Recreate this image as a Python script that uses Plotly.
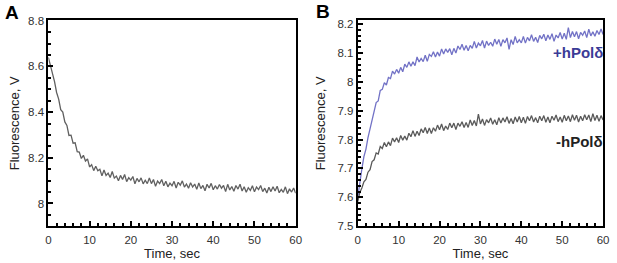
import plotly.graph_objects as go

# Sample times (s), 0.5 s spacing
time_s = [i * 0.5 for i in range(121)]

# Panel A: fluorescence (V)
fluor_a = [8.640, 8.608, 8.567, 8.534, 8.486, 8.457, 8.411, 8.400, 8.357, 8.342,
           8.298, 8.299, 8.264, 8.266, 8.227, 8.225, 8.197, 8.211, 8.186, 8.195,
           8.160, 8.170, 8.144, 8.163, 8.143, 8.150, 8.121, 8.147, 8.123, 8.133,
           8.114, 8.140, 8.111, 8.120, 8.100, 8.123, 8.105, 8.127, 8.096, 8.113,
           8.102, 8.118, 8.086, 8.110, 8.095, 8.112, 8.086, 8.102, 8.087, 8.112,
           8.087, 8.105, 8.075, 8.098, 8.087, 8.105, 8.078, 8.097, 8.073, 8.089,
           8.078, 8.097, 8.068, 8.093, 8.080, 8.099, 8.072, 8.085, 8.067, 8.091,
           8.072, 8.085, 8.062, 8.090, 8.065, 8.079, 8.056, 8.084, 8.068, 8.088,
           8.060, 8.078, 8.063, 8.083, 8.067, 8.079, 8.052, 8.084, 8.059, 8.074,
           8.054, 8.079, 8.063, 8.084, 8.055, 8.073, 8.049, 8.069, 8.057, 8.078,
           8.051, 8.072, 8.061, 8.079, 8.052, 8.067, 8.046, 8.071, 8.052, 8.073,
           8.055, 8.076, 8.047, 8.062, 8.049, 8.073, 8.043, 8.064, 8.050, 8.068,
           8.045]

# Panel B: +hPol delta
fluor_b_plus = [7.600, 7.657, 7.698, 7.741, 7.767, 7.807, 7.836, 7.875, 7.897, 7.928,
                7.934, 7.970, 7.974, 7.997, 7.989, 8.015, 8.011, 8.037, 8.027, 8.043,
                8.030, 8.050, 8.035, 8.061, 8.050, 8.069, 8.054, 8.069, 8.056, 8.086,
                8.069, 8.081, 8.070, 8.092, 8.071, 8.095, 8.088, 8.104, 8.086, 8.103,
                8.089, 8.114, 8.096, 8.114, 8.102, 8.115, 8.094, 8.116, 8.100, 8.124,
                8.112, 8.130, 8.109, 8.126, 8.108, 8.126, 8.116, 8.140, 8.117, 8.134,
                8.125, 8.143, 8.117, 8.141, 8.126, 8.137, 8.123, 8.148, 8.130, 8.147,
                8.123, 8.146, 8.135, 8.152, 8.112, 8.146, 8.129, 8.157, 8.135, 8.146,
                8.135, 8.157, 8.134, 8.154, 8.142, 8.163, 8.140, 8.154, 8.136, 8.161,
                8.149, 8.165, 8.142, 8.162, 8.147, 8.167, 8.140, 8.162, 8.152, 8.171,
                8.148, 8.168, 8.147, 8.188, 8.153, 8.174, 8.156, 8.174, 8.149, 8.171,
                8.161, 8.176, 8.153, 8.182, 8.159, 8.173, 8.158, 8.178, 8.164, 8.183,
                8.164]

# Panel B: -hPol delta
fluor_b_minus = [7.585, 7.617, 7.632, 7.654, 7.662, 7.687, 7.696, 7.724, 7.730, 7.754,
                 7.750, 7.776, 7.769, 7.790, 7.775, 7.792, 7.779, 7.805, 7.792, 7.806,
                 7.790, 7.814, 7.798, 7.812, 7.798, 7.822, 7.810, 7.831, 7.811, 7.829,
                 7.814, 7.837, 7.824, 7.842, 7.821, 7.840, 7.821, 7.841, 7.829, 7.850,
                 7.834, 7.854, 7.831, 7.847, 7.835, 7.857, 7.841, 7.857, 7.835, 7.857,
                 7.846, 7.862, 7.842, 7.859, 7.842, 7.868, 7.849, 7.866, 7.847, 7.888,
                 7.854, 7.871, 7.849, 7.869, 7.858, 7.875, 7.853, 7.869, 7.851, 7.876,
                 7.857, 7.875, 7.861, 7.879, 7.856, 7.873, 7.855, 7.878, 7.861, 7.880,
                 7.858, 7.877, 7.856, 7.880, 7.865, 7.883, 7.861, 7.876, 7.858, 7.881,
                 7.865, 7.883, 7.860, 7.878, 7.858, 7.881, 7.867, 7.885, 7.862, 7.878,
                 7.860, 7.884, 7.865, 7.882, 7.862, 7.886, 7.867, 7.884, 7.861, 7.881,
                 7.865, 7.886, 7.869, 7.885, 7.862, 7.890, 7.866, 7.884, 7.863, 7.883,
                 7.868]

x_ticks = [0, 10, 20, 30, 40, 50, 60]
font_family = "Liberation Sans, Arial, sans-serif"

fig = go.Figure()
fig.add_trace(go.Scatter(x=time_s, y=fluor_a, mode="lines",
                         line=dict(color="#606060", width=1.3), xaxis="x", yaxis="y",
                         showlegend=False))
fig.add_trace(go.Scatter(x=time_s, y=fluor_b_plus, mode="lines",
                         line=dict(color="#7272c6", width=1.3), xaxis="x2", yaxis="y2",
                         showlegend=False))
fig.add_trace(go.Scatter(x=time_s, y=fluor_b_minus, mode="lines",
                         line=dict(color="#5a5a5a", width=1.3), xaxis="x2", yaxis="y2",
                         showlegend=False))

ax_common = dict(showline=True, linecolor="black", linewidth=2, mirror=True,
                 ticks="inside", ticklen=5, tickwidth=1.5, tickcolor="black",
                 showgrid=False, zeroline=False, ticklabeloverflow="allow",
                 tickfont=dict(family=font_family, size=11.5, color="#333333"),
                 title_font=dict(family=font_family, size=13, color="#222222"))

minor_x = dict(dtick=2, ticks="inside", ticklen=3, tickcolor="black", tickwidth=1.5)

fig.update_layout(
    width=617, height=263,
    margin=dict(l=0, r=0, t=0, b=0),
    paper_bgcolor="white", plot_bgcolor="white",
    xaxis=dict(domain=[0.0746, 0.4814], anchor="y", range=[0, 60],
               tickvals=x_ticks, minor=minor_x, ticklabelstandoff=2,
               title=dict(text="Time, sec", standoff=4), **ax_common),
    yaxis=dict(domain=[0.1217, 0.9392], anchor="x", range=[7.9, 8.802],
               tick0=8, dtick=0.2, ticklabelstandoff=0,
               minor=dict(dtick=0.05, ticks="inside", ticklen=3,
                          tickcolor="black", tickwidth=1.5),
               title=dict(text="Fluorescence, V", standoff=5), **ax_common),
    xaxis2=dict(domain=[0.5835, 0.987], anchor="y2", range=[0, 60],
                tickvals=x_ticks, minor=minor_x, ticklabelstandoff=2,
                title=dict(text="Time, sec", standoff=4), **ax_common),
    yaxis2=dict(domain=[0.1217, 0.9392], anchor="x2", range=[7.4995, 8.213],
                tick0=7.5, dtick=0.1, ticklabelstandoff=0,
                minor=dict(dtick=0.02, ticks="inside", ticklen=3,
                           tickcolor="black", tickwidth=1.5),
                title=dict(text="Fluorescence, V", standoff=9), **ax_common),
    annotations=[
        dict(text="<b>A</b>", x=0.0, y=1.02, xref="paper", yref="paper",
             xanchor="left", yanchor="top", showarrow=False,
             font=dict(family=font_family, size=19, color="black")),
        dict(text="<b>B</b>", x=0.511, y=1.025, xref="paper", yref="paper",
             xanchor="left", yanchor="top", showarrow=False,
             font=dict(family=font_family, size=19, color="black")),
        dict(text="<b>+hPolδ</b>", x=0.99, y=0.81, xref="paper", yref="paper",
             xanchor="right", yanchor="middle", showarrow=False,
             font=dict(family=font_family, size=15, color="#3b3b96")),
        dict(text="<b>-hPolδ</b>", x=0.99, y=0.46, xref="paper", yref="paper",
             xanchor="right", yanchor="middle", showarrow=False,
             font=dict(family=font_family, size=15, color="#222222")),
    ],
)

fig.write_html("out.html", config={"displayModeBar": False},
               post_script="document.body.style.margin='0';")
